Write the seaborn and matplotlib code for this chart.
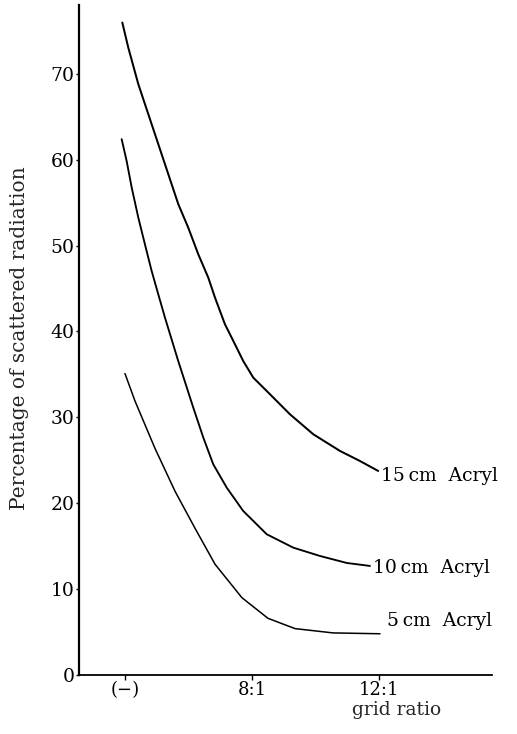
import matplotlib
matplotlib.use("Agg")
import matplotlib.pyplot as plt
import seaborn as sns
import pandas as pd

# Category positions on the x axis
grid_ratios = ["(\u2212)", "8:1", "12:1"]
grid_pos = [0, 1, 2]

# Series (x in category units, y in percent)
x_15 = [-0.021, 0.026, 0.105, 0.210, 0.315, 0.420, 0.498, 0.577, 0.656, 0.709, 0.787,
        0.853, 0.931, 1.010, 1.142, 1.299, 1.483, 1.693, 1.850, 1.994]
y_15 = [75.97, 73.06, 68.80, 64.14, 59.48, 54.82, 52.10, 49.00, 46.27, 43.94, 40.85,
        38.90, 36.57, 34.63, 32.69, 30.36, 28.03, 26.09, 24.92, 23.76]

x_10 = [-0.026, 0.013, 0.053, 0.105, 0.157, 0.210, 0.262, 0.315, 0.419, 0.538, 0.617,
        0.695, 0.801, 0.931, 1.116, 1.325, 1.535, 1.748, 1.929]
y_10 = [62.39, 59.86, 56.76, 53.26, 50.16, 47.05, 44.34, 41.61, 36.58, 31.13, 27.64,
        24.54, 21.82, 19.10, 16.39, 14.83, 13.86, 13.04, 12.70]

x_5 = [0.0, 0.079, 0.236, 0.394, 0.551, 0.709, 0.921, 1.126, 1.339, 1.638, 2.008]
y_5 = [35.1, 31.9, 26.4, 21.4, 17.1, 12.9, 9.0, 6.6, 5.4, 4.9, 4.8]

series_names = ["15\u2009cm  Acryl", "10\u2009cm  Acryl", "5\u2009cm  Acryl"]
label_x = [2.016, 1.953, 2.063]
label_y = [23.2, 12.5, 6.3]
y_ticks = [0, 10, 20, 30, 40, 50, 60, 70]

df = pd.concat([
    pd.DataFrame({"x": x_15, "y": y_15, "s": series_names[0]}),
    pd.DataFrame({"x": x_10, "y": y_10, "s": series_names[1]}),
    pd.DataFrame({"x": x_5, "y": y_5, "s": series_names[2]}),
])

sns.set_style("ticks")
plt.rcParams["font.family"] = ["DejaVu Serif", "Liberation Serif"]

fig = plt.figure(figsize=(5.17, 7.34), dpi=100)
ax = fig.add_axes([0.1528, 0.0804, 0.7988, 0.9126])

sns.lineplot(data=df, x="x", y="y", hue="s", units="s", estimator=None,
             palette=["black"] * 3, legend=False, ax=ax, linewidth=1.3, sort=True)
for line, lw in zip(ax.lines, [1.45, 1.35, 1.1]):
    line.set_linewidth(lw)
    line.set_solid_joinstyle("round")
    line.set_solid_capstyle("round")

for name, lx, ly in zip(series_names, label_x, label_y):
    ax.text(lx, ly, name, ha="left", va="center", fontsize=13.5, color="black")

ax.set_xlim(-0.362, 2.89)
ax.set_ylim(0, 78)
ax.set_xticks(grid_pos)
ax.set_xticklabels(grid_ratios, fontsize=13)
ax.set_yticks(y_ticks)
ax.set_yticklabels([str(t) for t in y_ticks], fontsize=13.5)
ax.tick_params(axis="y", direction="out", length=2.2, width=1, pad=1, colors="black")
ax.tick_params(axis="x", direction="out", length=3.6, width=1, pad=1, colors="black")

sns.despine(ax=ax)
ax.spines["left"].set_linewidth(1.6)
ax.spines["bottom"].set_linewidth(1.3)
ax.spines["left"].set_color("black")
ax.spines["bottom"].set_color("black")

ax.set_xlabel("grid ratio", fontsize=13.5)
ax.xaxis.set_label_coords(0.77, -0.053)
ax.xaxis.label.set_va("center")
ax.set_ylabel("Percentage of scattered radiation", fontsize=14.5)
ax.yaxis.set_label_coords(-0.143, 0.503)
ax.yaxis.label.set_va("center")

fig.savefig("out.png", dpi=100)
